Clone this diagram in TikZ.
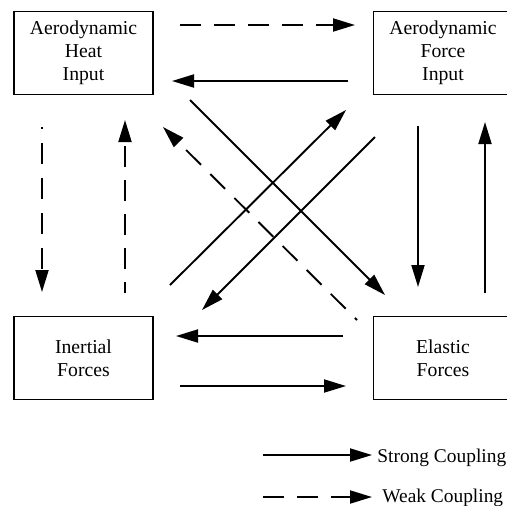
\documentclass[tikz,border=0pt]{standalone}
\usepackage{fontspec}
\setmainfont{Liberation Serif}
\usetikzlibrary{arrows.meta}
\begin{document}
\begin{tikzpicture}[x=0.5pt,y=-0.5pt,
  box/.style={draw, line width=0.65pt, minimum width=69.5pt, minimum height=41.5pt, inner sep=0pt, align=center, font=\fontsize{9.85}{11.6}\selectfont},
  conn/.style={line width=0.95pt, -{Triangle[length=11pt,width=6.5pt]}},
  weak/.style={conn, dash pattern=on 10.5pt off 6.5pt},
  lbl/.style={anchor=base west, inner sep=0pt, font=\fontsize{9.7}{11.6}\selectfont}]
\useasboundingbox (0,0) rectangle (507,505);
% boxes
\node[box] (heat)  at (83.5,53)  {Aerodynamic\\Heat\\Input};
\node[box] (force) at (443,53)   {Aerodynamic\\Force\\Input};
\node[box] (inert) at (83.5,358) {Inertial\\Forces};
\node[box] (elast) at (443,358)  {Elastic\\Forces};
% connector end points
\coordinate (hf1) at (180,25);  \coordinate (hf2) at (355,25);
\coordinate (fh1) at (348,81);  \coordinate (fh2) at (172,81);
\coordinate (hi1) at (42,127);  \coordinate (hi2) at (42,292);
\coordinate (ih1) at (125,293); \coordinate (ih2) at (125,120);
\coordinate (he1) at (190,100); \coordinate (he2) at (385,295);
\coordinate (eh1) at (357,320); \coordinate (eh2) at (163,127);
\coordinate (if1) at (170,285); \coordinate (if2) at (346,110);
\coordinate (fi1) at (375,137); \coordinate (fi2) at (202,310);
\coordinate (fe1) at (418,126); \coordinate (fe2) at (418,287);
\coordinate (ef1) at (485,293); \coordinate (ef2) at (485,122);
\coordinate (ei1) at (343,336); \coordinate (ei2) at (176,336);
\coordinate (ie1) at (180,386); \coordinate (ie2) at (346,386);
\coordinate (ls1) at (263,455); \coordinate (ls2) at (372,455);
\coordinate (lw1) at (263,497); \coordinate (lw2) at (372,497);
% connectors
\draw[weak] (hf1) -- (hf2);
\draw[conn] (fh1) -- (fh2);
\draw[weak, dash pattern=on 10.5pt off 7pt, dash phase=9.5pt] (hi1) -- (hi2);
\draw[weak, dash phase=5pt] (ih1) -- (ih2);
\draw[conn] (he1) -- (he2);
\draw[weak, dash phase=9pt] (eh1) -- (eh2);
\draw[conn] (if1) -- (if2);
\draw[conn] (fi1) -- (fi2);
\draw[conn] (fe1) -- (fe2);
\draw[conn] (ef1) -- (ef2);
\draw[conn] (ei1) -- (ei2);
\draw[conn] (ie1) -- (ie2);
% legend
\draw[conn] (ls1) -- (ls2);
\draw[weak] (lw1) -- (lw2);
\node[lbl] (lst) at (377,462) {Strong Coupling};
\node[lbl] (lwt) at (382,502) {Weak Coupling};
\end{tikzpicture}
\end{document}
